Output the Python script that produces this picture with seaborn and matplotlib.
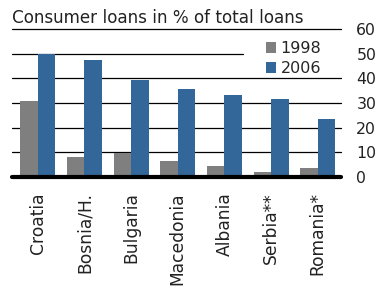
import matplotlib
matplotlib.use("Agg")
import matplotlib.pyplot as plt
import seaborn as sns
import pandas as pd

countries = ["Croatia", "Bosnia/H.", "Bulgaria", "Macedonia", "Albania", "Serbia**", "Romania*"]
loans_1998 = [31, 8.2, 9.8, 6.5, 4.4, 2.2, 3.8]
loans_2006 = [50, 47.3, 39.2, 35.5, 33.3, 31.8, 23.7]
years = ["1998", "2006"]
yticks = [0, 10, 20, 30, 40, 50, 60]

df = pd.DataFrame({
    "country": countries * 2,
    "year": [years[0]] * len(countries) + [years[1]] * len(countries),
    "value": loans_1998 + loans_2006,
})

sns.set_style("white")
plt.rcParams["font.family"] = ["DejaVu Sans"]

W, H = 375, 289
fig = plt.figure(figsize=(W / 100, H / 100), dpi=100)
ax_left, ax_right = 14.5, 341
y0, y60 = 177, 29
ax = fig.add_axes([ax_left / W, 1 - y0 / H, (ax_right - ax_left) / W, (y0 - y60) / H])

palette = {"1998": "#7f7f7f", "2006": "#336699"}
sns.barplot(data=df, x="country", y="value", hue="year", palette=palette,
            width=0.75, saturation=1, ax=ax, zorder=3, edgecolor="none")

ax.set_ylim(0, 60)
ax.set_xlim(-0.5, len(countries) - 0.5)
ax.set_yticks(yticks)
ax.yaxis.tick_right()
ax.tick_params(axis="y", length=0, pad=11, labelsize=11.3, colors="#222222")
ax.tick_params(axis="x", length=0, pad=11, labelsize=12.3, colors="#222222")
ax.set_xticks(range(len(countries)))
ax.set_xticklabels(countries, rotation=90, va="top", ha="center")
for t in ax.get_yticklabels():
    t.set_horizontalalignment("left")
ax.set_xlabel("")
ax.set_ylabel("")
for s in ax.spines.values():
    s.set_visible(False)

ax.grid(False)
xr = (ax_right - ax_left)
for v in yticks[1:]:
    if v == 50:
        ax.axhline(v, xmin=(12 - ax_left) / xr, xmax=(243 - ax_left) / xr,
                   color="black", lw=0.9, zorder=1, clip_on=False)
    else:
        ax.axhline(v, xmin=(12 - ax_left) / xr, xmax=1, color="black", lw=0.9,
                   zorder=1, clip_on=False)
ax.axhline(0, xmin=(12 - ax_left) / xr, xmax=1, color="black", lw=3, zorder=4,
           clip_on=False)

leg = ax.legend(loc="upper left", bbox_to_anchor=((266 - ax_left) / xr, 1 - 12 / (y0 - y60)),
                frameon=False, fontsize=11.5, handlelength=0.65, handleheight=0.65,
                handletextpad=0.25, borderpad=0.0, labelspacing=0.3, borderaxespad=0)
leg.set_zorder(5)

fig.text(12 / W, 1 - 18 / H, "Consumer loans in % of total loans",
         fontsize=12.1, va="center", ha="left", color="#222222")

fig.savefig("out.png", dpi=100)
